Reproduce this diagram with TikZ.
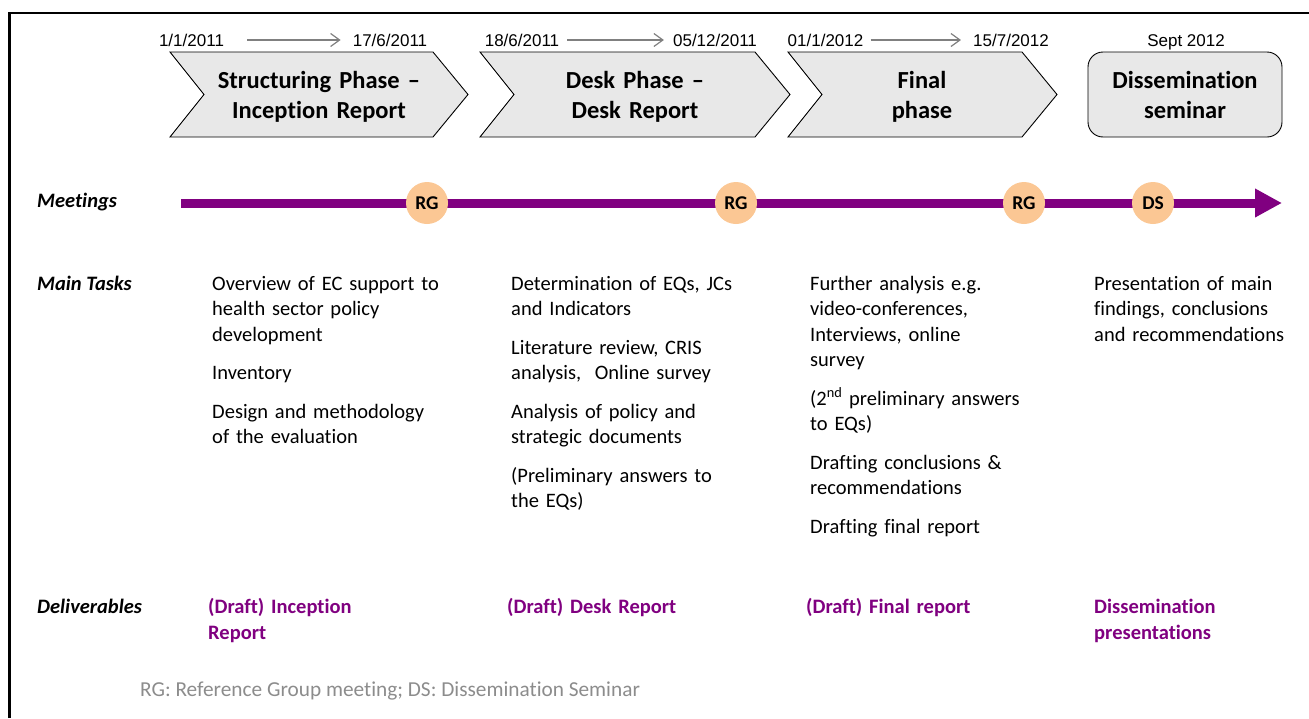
\documentclass[tikz,border=0pt]{standalone}
\usepackage{fontspec}
\setmainfont{Carlito}[Ligatures={NoCommon}]
\newfontfamily\arialf{Liberation Sans}
\usetikzlibrary{arrows.meta}
\definecolor{purp}{HTML}{800080}
\definecolor{peach}{HTML}{FBC794}
\definecolor{chevfill}{HTML}{E8E8E8}
\definecolor{dategray}{HTML}{808080}
\definecolor{notegray}{HTML}{8C8C8C}
\begin{document}
\begin{tikzpicture}[x=1pt,y=-1pt,
  phasebox/.style={draw=black, line width=0.9pt, fill=chevfill},
  phasetext/.style={anchor=base, inner sep=0pt, text width=240pt, align=center,
    font=\fontsize{24.5}{30}\selectfont\bfseries},
  datetext/.style={anchor=base, inner sep=0pt, font=\arialf\fontsize{17}{20}\selectfont},
  datearr/.style={draw=dategray, line width=1.2pt, -{Straight Barb[length=9pt,width=13pt]}},
  rowlabel/.style={anchor=base west, inner sep=0pt, font=\fontsize{20.5}{25}\selectfont\bfseries\itshape},
  task/.style={anchor=base west, inner sep=0pt, text width=270pt, align=left,
    font=\fontsize{20.5}{25.5}\selectfont},
  deliv/.style={anchor=base west, inner sep=0pt, text width=260pt, align=left, text=purp,
    font=\fontsize{20.5}{26}\selectfont\bfseries},
  meet/.style={circle, fill=peach, minimum size=42pt, inner sep=0pt,
    font=\fontsize{19.5}{22}\selectfont\bfseries},
  timeline/.style={draw=purp, line width=9pt, -{Triangle[length=27pt,width=27pt]}}
]
\useasboundingbox (0,0) rectangle (1309,718);
% frame
\draw[line width=2.5pt] (9.7,718) -- (9.7,12.8) -- (1309,12.8);

% phases
\draw[phasebox] (170,52) -- (433,52) -- (468,94.5) -- (433,137) -- (170,137) -- (204,94.5) -- cycle;
\draw[phasebox] (480,52) -- (755,52) -- (790,94.5) -- (755,137) -- (480,137) -- (514,94.5) -- cycle;
\draw[phasebox] (788,52) -- (1022,52) -- (1057,94.5) -- (1022,137) -- (788,137) -- (822,94.5) -- cycle;
\draw[phasebox, rounded corners=15pt] (1088,52) rectangle (1282,137);

\node[phasetext] (p1) at (319,88.5) {Structuring Phase --\\Inception Report};
\node[phasetext] (p2) at (635,88.5) {Desk Phase --\\Desk Report};
\node[phasetext] (p3) at (922,88.5) {Final\\phase};
\node[phasetext] (p4) at (1185,88.5) {Dissemination\\seminar};

% dates
\node[datetext] (d1a) at (191.5,46) {1/1/2011};
\node[datetext] (d1b) at (390,46) {17/6/2011};
\node[datetext] (d2a) at (522,46) {18/6/2011};
\node[datetext] (d2b) at (715,46) {05/12/2011};
\node[datetext] (d3a) at (825.5,46) {01/1/2012};
\node[datetext] (d3b) at (1011,46) {15/7/2012};
\node[datetext] (d4) at (1186,46) {Sept 2012};
\draw[datearr] ([xshift=23pt,yshift=6pt]d1a.base east) -- ([xshift=-12pt,yshift=6pt]d1b.base west);
\draw[datearr] ([xshift=8pt,yshift=6pt]d2a.base east) -- ([xshift=-9pt,yshift=6pt]d2b.base west);
\draw[datearr] ([xshift=7pt,yshift=6pt]d3a.base east) -- ([xshift=-12pt,yshift=6pt]d3b.base west);

% row labels
\node[rowlabel] (lm) at (37,207) {Meetings};
\node[rowlabel] (lt) at (37,290) {Main Tasks};
\node[rowlabel] (ld) at (37,613) {Deliverables};

% timeline
\coordinate (tstart) at (181,203);
\coordinate (tend) at (1282,203);
\draw[timeline] (tstart) -- (tend);
\node[meet] (rg1) at (427,203) {RG};
\node[meet] (rg2) at (736,203) {RG};
\node[meet] (rg3) at (1024,203) {RG};
\node[meet] (ds) at (1153,203) {DS};

% main tasks
\node[task] (t1) at (212,290) {Overview of EC support to\\health sector policy\\development\\[13pt]Inventory\\[13pt]Design and methodology\\of the evaluation};
\node[task] (t2) at (511,290) {Determination of EQs, JCs\\and Indicators\\[13pt]Literature review, CRIS\\analysis,\ \ Online survey\\[13pt]Analysis of policy and\\strategic documents\\[13pt](Preliminary answers to\\the EQs)};
\node[task] (t3) at (810,290) {Further analysis e.g.\\video-conferences,\\Interviews, online\\survey\\[13pt](2\textsuperscript{nd} preliminary answers\\to EQs)\\[13pt]Drafting conclusions \&\\recommendations\\[13pt]Drafting final report};
\node[task] (t4) at (1094,290) {Presentation of main\\findings, conclusions\\and recommendations};

% deliverables
\node[deliv] (v1) at (208,613) {(Draft) Inception\\Report};
\node[deliv] (v2) at (507,613) {(Draft) Desk Report};
\node[deliv] (v3) at (806,613) {(Draft) Final report};
\node[deliv] (v4) at (1094,613) {Dissemination\\presentations};

% note
\node[anchor=base west, inner sep=0pt, text=notegray, font=\fontsize{21.3}{24}\selectfont] (note) at (140,696) {RG: Reference Group meeting; DS: Dissemination Seminar};
\end{tikzpicture}
\end{document}
